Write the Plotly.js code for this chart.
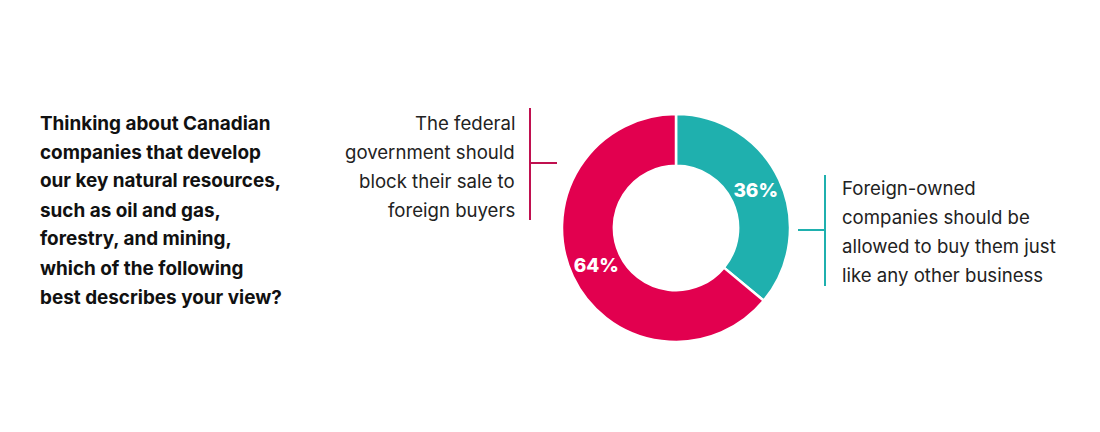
<!DOCTYPE html>
<html>
<head>
<meta charset="utf-8">
<script src="https://cdn.plot.ly/plotly-3.0.1.min.js"></script>
<style>
  html, body { margin: 0; padding: 0; background: #ffffff; }
  #grafico { width: 1100px; height: 432px; }
</style>
</head>
<body>
<div id="grafico"></div>
<script>
// Datos del gráfico
const categorias = [
    'Foreign-owned companies should be allowed to buy them just like any other business',
    'The federal government should block their sale to foreign buyers'
];
const valores = [36, 64];
const colores = ['#1fb0ae', '#e2004f'];

// Texto de la pregunta (una línea por entrada)
const preguntaLineas = [
    'Thinking about Canadian',
    'companies that develop',
    'our key natural resources,',
    'such as oil and gas,',
    'forestry, and mining,',
    'which of the following',
    'best describes your view?'
];
const etiquetaDerecha = [
    'Foreign-owned',
    'companies should be',
    'allowed to buy them just',
    'like any other business'
];
const etiquetaIzquierda = [
    'The federal',
    'government should',
    'block their sale to',
    'foreign buyers'
];

const W = 1100, H = 432;
const px = x => x / W;
const py = y => 1 - y / H;

// Dona
const traza = {
    type: 'pie',
    labels: categorias,
    values: valores,
    hole: 0.545,
    sort: false,
    direction: 'clockwise',
    rotation: 0,
    marker: { colors: colores, line: { color: '#ffffff', width: 2.5 } },
    texttemplate: '%{value}%',
    textposition: 'inside',
    insidetextorientation: 'horizontal',
    textfont: { family: 'Inter, sans-serif', size: 19, color: '#ffffff', weight: 800 },
    domain: { x: [px(562), px(790)], y: [py(342), py(114)] },
    hoverinfo: 'skip',
    showlegend: false
};

// Anotaciones de texto
const anotaciones = [];
preguntaLineas.forEach((linea, i) => {
    anotaciones.push({
        xref: 'paper', yref: 'paper', x: px(38), y: py(123 + i * 29),
        xanchor: 'left', yanchor: 'middle', showarrow: false,
        text: '<b>' + linea + '</b>',
        font: { family: 'Inter, sans-serif', size: 18.9, color: '#111111', weight: 800 }
    });
});
etiquetaDerecha.forEach((linea, i) => {
    anotaciones.push({
        xref: 'paper', yref: 'paper', x: px(840), y: py(188 + i * 29),
        xanchor: 'left', yanchor: 'middle', showarrow: false,
        text: linea,
        font: { family: 'Inter, sans-serif', size: 18.6, color: '#222222' }
    });
});
etiquetaIzquierda.forEach((linea, i) => {
    anotaciones.push({
        xref: 'paper', yref: 'paper', x: px(517), y: py(123 + i * 29),
        xanchor: 'right', yanchor: 'middle', showarrow: false,
        text: linea,
        font: { family: 'Inter, sans-serif', size: 18.6, color: '#222222' }
    });
});

// Corchetes de las etiquetas
const linea = (x0, y0, x1, y1, color) => ({
    type: 'line', xref: 'paper', yref: 'paper',
    x0: px(x0), y0: py(y0), x1: px(x1), y1: py(y1),
    line: { color: color, width: 2 }
});
const formas = [
    linea(530, 108, 530, 220, '#c0104f'),
    linea(530, 163, 557, 163, '#c0104f'),
    linea(825, 175, 825, 286, '#1fb0ae'),
    linea(798, 230, 825, 230, '#1fb0ae')
];

const layout = {
    width: W,
    height: H,
    paper_bgcolor: '#ffffff',
    plot_bgcolor: '#ffffff',
    margin: { t: 0, r: 0, b: 0, l: 0 },
    showlegend: false,
    annotations: anotaciones,
    shapes: formas
};

Plotly.newPlot('grafico', [traza], layout, { displayModeBar: false, staticPlot: true });
</script>
</body>
</html>
